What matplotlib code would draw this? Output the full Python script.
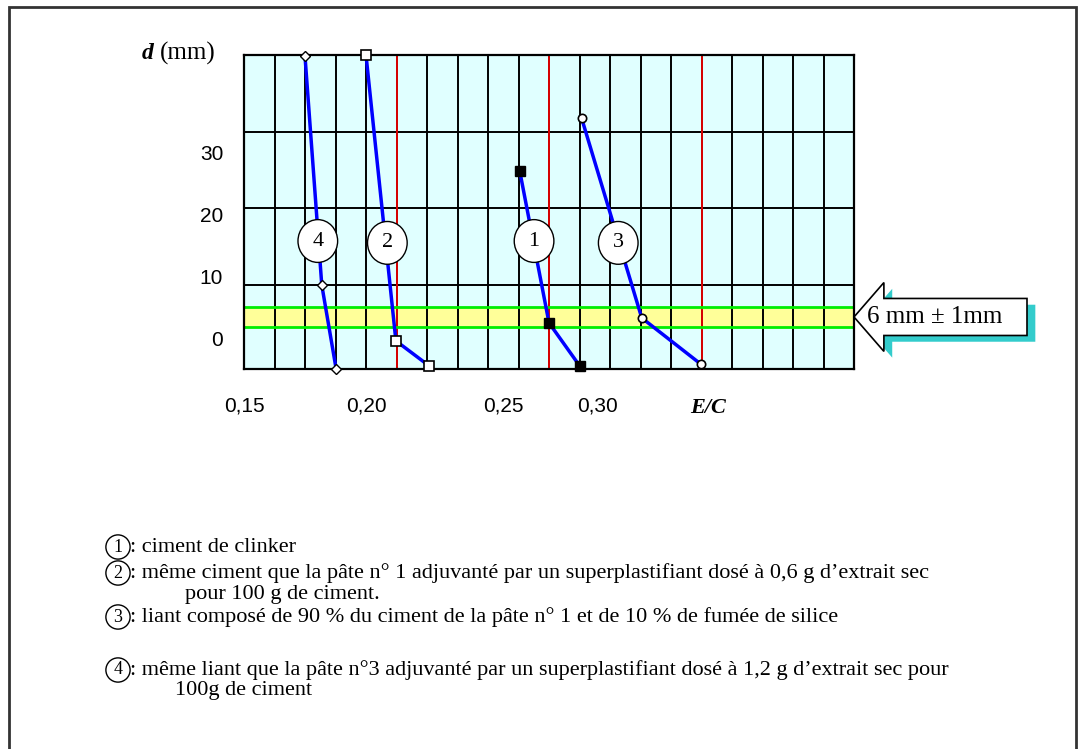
import numpy as np
import matplotlib
matplotlib.use("Agg")
import matplotlib.pyplot as plt
import matplotlib.patches as mpatches
import matplotlib.transforms as mtransforms
import matplotlib.patheffects as pe

# E/C (water / cement ratio) and spread d (mm) for each paste
ec_1 = [0.2404, 0.250, 0.260]
d_1 = [27.1, 2.6, -4.3]
ec_2 = [0.190, 0.1998, 0.2106]
d_2 = [45.8, -0.3, -4.3]
ec_3 = [0.2607, 0.2804, 0.2999]
d_3 = [35.6, 3.4, -4.1]
ec_4 = [0.170, 0.1755, 0.1802]
d_4 = [45.6, 8.7, -4.8]

# where the circled number sits on each curve
curve_ids = ["1", "2", "3", "4"]
label_ec = [0.2451, 0.197, 0.2727, 0.1742]
label_d = [15.8, 15.5, 15.5, 15.8]

# axis ticks as printed (the original sheet is not well aligned)
x_tick_pos = [0.150, 0.190, 0.235, 0.266]
x_tick_labels = ["0,15", "0,20", "0,25", "0,30"]
y_ticks = [0, 10, 20, 30]
y_grid = [8.7, 21.1, 33.4]
red_lines = [0.20, 0.25, 0.30]
band = (1.94, 5.16)   # 6 mm +/- 1 mm

legend_lines = [
    ("1", ": ciment de clinker", None),
    ("2", ": même ciment que la pâte n° 1 adjuvanté par un superplastifiant dosé à 0,6 g d\u2019extrait sec",
     "pour 100 g de ciment."),
    ("3", ": liant composé de 90 % du ciment de la pâte n° 1 et de 10 % de fumée de silice", None),
    ("4", ": même liant que la pâte n°3 adjuvanté par un superplastifiant dosé à 1,2 g d\u2019extrait sec pour",
     "100g de ciment"),
]

serif = "Liberation Serif"
sans = "Liberation Sans"

W, H = 1085, 749
fig = plt.figure(figsize=(W / 100, H / 100), dpi=100)
ax = fig.add_axes([244 / W, 1 - 369 / H, 610 / W, 314 / H])
ax.set_facecolor("#e0ffff")
ax.set_xlim(0.15, 0.35)
ax.set_ylim(-4.84, 45.8)

# yellow tolerance band
ax.axhspan(band[0], band[1], facecolor="#ffff99", edgecolor="none", zorder=1)

# grid
for x in np.arange(0.16, 0.35, 0.01):
    ax.axvline(x, color="black", lw=1.4, zorder=2)
for y in y_grid:
    ax.axhline(y, color="black", lw=1.4, zorder=2)
for x in red_lines:
    ax.axvline(x, color="red", lw=1.2, zorder=2.2)
for y in band:
    ax.axhline(y, color="#00ee00", lw=2, zorder=2.5)

for s in ax.spines.values():
    s.set_linewidth(1.6)
    s.set_zorder(2.6)

# curves
kw = dict(color="#0000ff", lw=2.5, mec="black", zorder=3, clip_on=False)
ax.plot(ec_1, d_1, marker="s", ms=7, mfc="black", **kw)
ax.plot(ec_2, d_2, marker="s", ms=7, mfc="white", mew=1.2, **kw)
ax.plot(ec_3, d_3, marker="o", ms=6, mfc="white", mew=1.2, **kw)
ax.plot(ec_4, d_4, marker="D", ms=5, mfc="white", mew=1.0, **kw)

for cid, x, y in zip(curve_ids, label_ec, label_d):
    ax.add_patch(mpatches.Ellipse((x, y), 0.013, 6.9, facecolor="white",
                                  edgecolor="black", lw=1, zorder=4))
    ax.text(x, y, cid, ha="center", va="center", fontsize=16,
            family=serif, zorder=5)

# ticks
ax.set_xticks(x_tick_pos)
ax.set_xticklabels(x_tick_labels)
ax.set_yticks(y_ticks)
ax.set_yticklabels([str(v) for v in y_ticks])
ax.tick_params(axis="x", length=0, pad=20, labelsize=15)
ax.tick_params(axis="y", length=0, pad=15, labelsize=15)
for lab in ax.get_xticklabels() + ax.get_yticklabels():
    lab.set_family(sans)

ax.text(0.302, -0.125, "E/C", transform=ax.get_xaxis_transform(),
        ha="center", va="center", fontsize=16, family=serif,
        fontweight="bold", fontstyle="italic")
ax.text(-0.168, 1.006, "d", transform=ax.transAxes, ha="left", va="center",
        fontsize=17, family=serif, fontweight="bold", fontstyle="italic")
ax.text(-0.138, 1.006, "(mm)", transform=ax.transAxes, ha="left",
        va="center", fontsize=18, family=serif)

# arrow pointing at the band
tr = mtransforms.blended_transform_factory(ax.transAxes, ax.transData)
yc = (band[0] + band[1]) / 2
arrow = mpatches.FancyArrow(1.2836, yc, -0.2836, 0, width=5.97,
                            head_width=11.1, head_length=0.049,
                            length_includes_head=True, transform=tr,
                            clip_on=False, facecolor="white",
                            edgecolor="black", lw=1.2, zorder=6)
arrow.set_path_effects([pe.withSimplePatchShadow(offset=(6, -4.5),
                                                 shadow_rgbFace="#33cccc",
                                                 alpha=1.0)])
ax.add_patch(arrow)
ax.text(1.022, yc, "6 mm \u00b1 1mm", transform=tr, ha="left", va="center",
        fontsize=18, family=serif, zorder=7)

# legend below the chart
rows_y = [547, 573, 617, 670]
cont_x = [None, 185, None, 175]
for (num, txt, cont), py, cx in zip(legend_lines, rows_y, cont_x):
    fig.text(118 / W, 1 - py / H, num, ha="center", va="center",
             fontsize=13, family=serif,
             bbox=dict(boxstyle="circle,pad=0.2", fc="white", ec="black",
                       lw=1))
    fig.text(130 / W, 1 - py / H, txt, ha="left", va="center",
             fontsize=16, family=serif)
    if cont:
        fig.text(cx / W, 1 - (py + 21) / H, cont, ha="left", va="center",
                 fontsize=16, family=serif)

# frame around the whole sheet
fig.add_artist(mpatches.Rectangle((9 / W, -0.05), 1067 / W, 1.05 - 7 / H,
                                  transform=fig.transFigure, fill=False,
                                  edgecolor="#333333", lw=2))

fig.savefig("out.png", dpi=100)
